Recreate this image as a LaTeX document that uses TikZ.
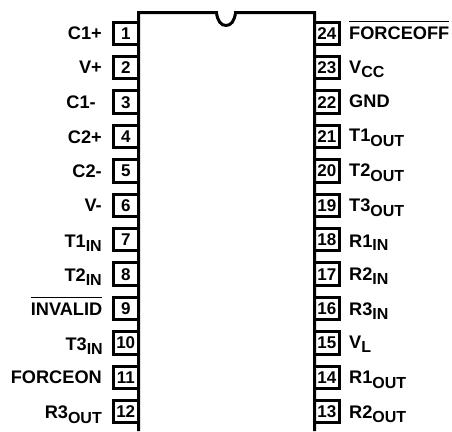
\documentclass[tikz,border=0pt]{standalone}
\usepackage{fontspec}
\setmainfont{Liberation Sans}[BoldFont={Liberation Sans Bold}]
\newcommand{\mainsz}{\fontsize{18.2pt}{20pt}\selectfont\bfseries}
\newcommand{\numsz}{\fontsize{17pt}{18pt}\selectfont\bfseries}
\newcommand{\subsz}{\fontsize{16pt}{18pt}\selectfont\bfseries}
\newcommand{\sublab}[3]{#1\raisebox{-#3pt}{\subsz #2}}
\newsavebox{\ovlbox}
\newcommand{\ovl}[1]{\sbox{\ovlbox}{#1}\rlap{\rule[17pt]{\wd\ovlbox}{1pt}}\usebox{\ovlbox}}
\tikzset{
  chipline/.style={line width=3pt},
  pinbox/.style={draw,line width=3pt,minimum width=25.5pt,minimum height=22.5pt,inner sep=0pt,outer sep=0pt,font=\numsz,text height=12pt,text depth=0pt},
  lablft/.style={anchor=base east,inner sep=0pt,font=\mainsz},
  labrgt/.style={anchor=base west,inner sep=0pt,font=\mainsz}
}
\begin{document}
\begin{tikzpicture}[x=1pt,y=-1pt]
\useasboundingbox (0,0) rectangle (452,431);
\draw[chipline,line join=miter] (138.5,431) -- (138.5,12.7) -- (216.5,12.7)
  .. controls (217.5,21) and (221,25.5) .. (226,25.5)
  .. controls (231,25.5) and (234.5,21) .. (235.5,12.7)
  -- (314.5,12.7) -- (314.5,431);
% left pins
\foreach \n/\yy in {1/33.3,2/67.7,3/102.1,4/136.5,5/170.9,6/205.3,7/239.7,8/274.1,9/308.5,10/342.9,11/377.3,12/411.7}
  \node[pinbox] (p\n) at (125.75,\yy) {\n};
% right pins
\foreach \n/\yy in {24/33.3,23/67.7,22/102.1,21/136.5,20/170.9,19/205.3,18/239.7,17/274.1,16/308.5,15/342.9,14/377.3,13/411.7}
  \node[pinbox] (p\n) at (326.75,\yy) {\n};
% left labels
\node[lablft] (l1) at (102,39) {C1+};
\node[lablft] (l2) at (102,73) {V+};
\node[lablft] (l3) at (96,108) {C1-};
\node[lablft] (l4) at (102,143) {C2+};
\node[lablft] (l5) at (102,177) {C2-};
\node[lablft] (l6) at (102,211) {V-};
\node[lablft] (l7) at (102,247) {\sublab{T1}{IN}{4.5}};
\node[lablft] (l8) at (102,281) {\sublab{T2}{IN}{4.5}};
\node[lablft] (l9) at (102.5,315) {\ovl{INVALID}};
\node[lablft] (l10) at (103,350) {\sublab{T3}{IN}{4.5}};
\node[lablft] (l11) at (102,383) {FORCEON};
\node[lablft] (l12) at (102,418) {\sublab{R3}{OUT}{5}};
% right labels
\node[labrgt] (r24) at (349,39) {\ovl{FORCEOFF}};
\node[labrgt] (r23) at (349,73) {\sublab{V}{CC}{4.5}};
\node[labrgt] (r22) at (349,107) {GND};
\node[labrgt] (r21) at (349,141) {\sublab{T1}{OUT}{5.5}};
\node[labrgt] (r20) at (349,176) {\sublab{T2}{OUT}{5}};
\node[labrgt] (r19) at (349,211) {\sublab{T3}{OUT}{5.5}};
\node[labrgt] (r18) at (349,247) {\sublab{R1}{IN}{3.5}};
\node[labrgt] (r17) at (349,280) {\sublab{R2}{IN}{4.5}};
\node[labrgt] (r16) at (349,315) {\sublab{R3}{IN}{4.5}};
\node[labrgt] (r15) at (349,348) {\sublab{V}{L}{4.5}};
\node[labrgt] (r14) at (349,383) {\sublab{R1}{OUT}{5}};
\node[labrgt] (r13) at (349,418) {\sublab{R2}{OUT}{4}};
\end{tikzpicture}
\end{document}
